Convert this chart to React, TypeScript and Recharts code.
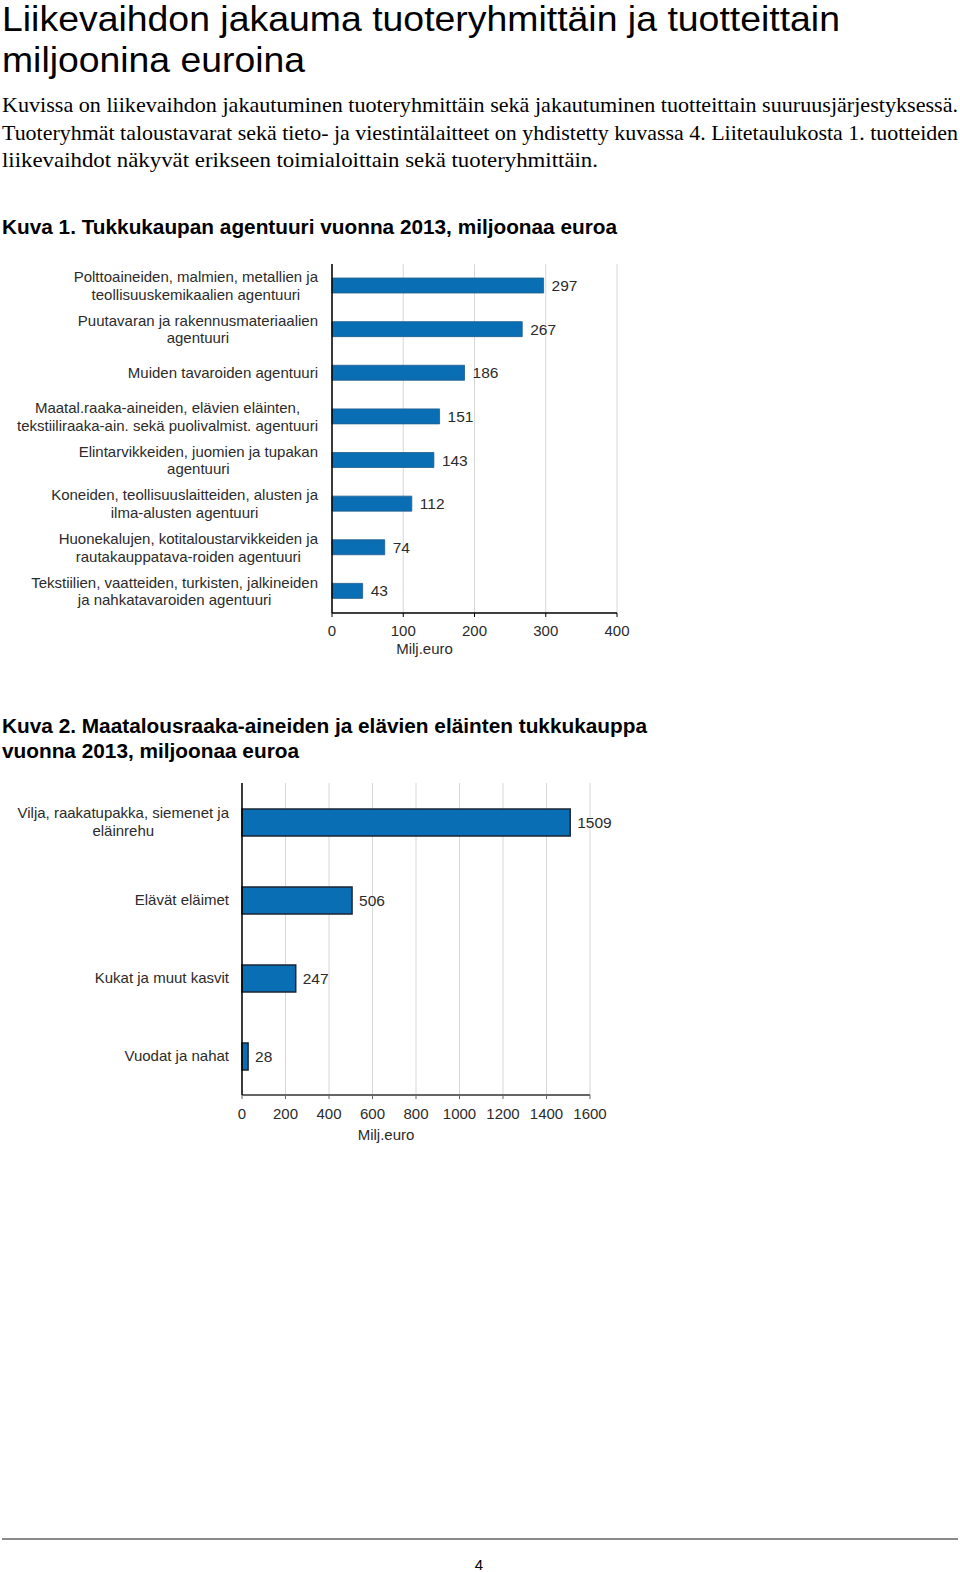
import React from 'react';
import { BarChart, Bar, XAxis, YAxis, CartesianGrid, LabelList } from 'recharts';

// ---------- Data ----------
const agentCategories = [
  'Polttoaineiden, malmien, metallien ja\nteollisuuskemikaalien agentuuri',
  'Puutavaran ja rakennusmateriaalien\nagentuuri',
  'Muiden tavaroiden agentuuri',
  'Maatal.raaka-aineiden, elävien eläinten,\ntekstiiliraaka-ain. sekä puolivalmist. agentuuri',
  'Elintarvikkeiden, juomien ja tupakan\nagentuuri',
  'Koneiden, teollisuuslaitteiden, alusten ja\nilma-alusten agentuuri',
  'Huonekalujen, kotitaloustarvikkeiden ja\nrautakauppatava-roiden agentuuri',
  'Tekstiilien, vaatteiden, turkisten, jalkineiden\nja nahkatavaroiden agentuuri',
];
const agentValues = [297, 267, 186, 151, 143, 112, 74, 43];
const agentTicks = [0, 100, 200, 300, 400];

const farmCategories = [
  'Vilja, raakatupakka, siemenet ja\neläinrehu',
  'Elävät eläimet',
  'Kukat ja muut kasvit',
  'Vuodat ja nahat',
];
const farmValues = [1509, 506, 247, 28];
const farmTicks = [0, 200, 400, 600, 800, 1000, 1200, 1400, 1600];

const axisUnit = 'Milj.euro';

const pageTitle = ['Liikevaihdon jakauma tuoteryhmittäin ja tuotteittain', 'miljoonina euroina'];
const introLines = [
  'Kuvissa on liikevaihdon jakautuminen tuoteryhmittäin sekä jakautuminen tuotteittain suuruusjärjestyksessä.',
  'Tuoteryhmät taloustavarat sekä tieto- ja viestintälaitteet on yhdistetty kuvassa 4. Liitetaulukosta 1. tuotteiden',
  'liikevaihdot näkyvät erikseen toimialoittain sekä tuoteryhmittäin.',
];
const figure1Title = 'Kuva 1. Tukkukaupan agentuuri vuonna 2013, miljoonaa euroa';
const figure2Title = ['Kuva 2. Maatalousraaka-aineiden ja elävien eläinten tukkukauppa', 'vuonna 2013, miljoonaa euroa'];
const pageNumber = '4';

const agentData = agentCategories.map((name, i) => ({ name, value: agentValues[i] }));
const farmData = farmCategories.map((name, i) => ({ name, value: farmValues[i] }));

// ---------- Styles ----------
const SANS = '"Liberation Sans", Arial, sans-serif';
const SERIF = '"Liberation Serif", "Times New Roman", serif';
const BLUE = '#0a6eb4';
const TEXT = '#2b2b2b';

let measureCanvas: HTMLCanvasElement | null = null;
function measure(text: string, font: string): number {
  if (typeof document === 'undefined') return text.length * 7;
  if (!measureCanvas) measureCanvas = document.createElement('canvas');
  const ctx = measureCanvas.getContext('2d');
  if (!ctx) return text.length * 7;
  ctx.font = font;
  return ctx.measureText(text).width;
}

function CategoryTick(props: any) {
  const { x, y, payload, fontSize = 15, lineHeight = 17.5, gap = 14 } = props;
  const lines = String(payload.value).split('\n');
  const font = `${fontSize}px "Liberation Sans"`;
  const maxW = Math.max(...lines.map((l) => measure(l, font)));
  const cx = x - gap - maxW / 2;
  const startY = y - ((lines.length - 1) * lineHeight) / 2;
  return (
    <text textAnchor="middle" fontFamily={SANS} fontSize={fontSize} fill={TEXT}>
      {lines.map((l, i) => (
        <tspan key={i} x={cx} y={startY + i * lineHeight} dy="0.35em">
          {l}
        </tspan>
      ))}
    </text>
  );
}

function Chart1() {
  return (
    <BarChart
      width={640}
      height={408}
      data={agentData}
      layout="vertical"
      margin={{ top: 14, right: 23, left: 0, bottom: 0 }}
      barCategoryGap={0}
    >
      <CartesianGrid horizontal={false} stroke="#d6d6d6" />
      <XAxis
        type="number"
        domain={[0, 400]}
        ticks={agentTicks}
        height={45}
        axisLine={{ stroke: '#000', strokeWidth: 1.5 }}
        tickLine={{ stroke: '#000' }}
        tickSize={4}
        tickMargin={8}
        tick={{ fill: TEXT, fontSize: 15, fontFamily: SANS }}
        label={{ value: axisUnit, position: 'insideBottom', dx: -50, offset: 4, fill: TEXT, fontSize: 15, fontFamily: SANS }}
      />
      <YAxis
        type="category"
        dataKey="name"
        width={332}
        axisLine={{ stroke: '#000', strokeWidth: 1.5 }}
        tickLine={false}
        tickSize={0}
        tickMargin={0}
        interval={0}
        tick={<CategoryTick fontSize={15} lineHeight={17.5} gap={14} />}
      />
      <Bar dataKey="value" fill={BLUE} stroke="#1e5d8c" strokeWidth={0.8} barSize={15} isAnimationActive={false}>
        <LabelList dataKey="value" position="right" offset={8} fill={TEXT} fontSize={15.5} fontFamily={SANS} />
      </Bar>
    </BarChart>
  );
}

function Chart2() {
  return (
    <BarChart
      width={620}
      height={380}
      data={farmData}
      layout="vertical"
      margin={{ top: 13, right: 30, left: 0, bottom: 0 }}
      barCategoryGap={0}
    >
      <CartesianGrid horizontal={false} stroke="#d6d6d6" />
      <XAxis
        type="number"
        domain={[0, 1600]}
        ticks={farmTicks}
        height={55}
        axisLine={{ stroke: '#666', strokeWidth: 2 }}
        tickLine={{ stroke: '#666' }}
        tickSize={4}
        tickMargin={9}
        tick={{ fill: TEXT, fontSize: 15, fontFamily: SANS }}
        label={{ value: axisUnit, position: 'insideBottom', dx: -30, offset: 10, fill: TEXT, fontSize: 15, fontFamily: SANS }}
      />
      <YAxis
        type="category"
        dataKey="name"
        width={242}
        axisLine={{ stroke: '#000', strokeWidth: 1.5 }}
        tickLine={false}
        tickSize={0}
        tickMargin={0}
        interval={0}
        tick={<CategoryTick fontSize={15} lineHeight={18} gap={13} />}
      />
      <Bar dataKey="value" fill={BLUE} stroke="#1a2633" strokeWidth={1.5} barSize={27} isAnimationActive={false}>
        <LabelList dataKey="value" position="right" offset={7} fill={TEXT} fontSize={15.5} fontFamily={SANS} />
      </Bar>
    </BarChart>
  );
}

export default function App() {
  return (
    <div style={{ position: 'absolute', left: 0, top: 0, width: 960, height: 1572, background: '#fff', overflow: 'hidden' }}>
      <svg width={960} height={1572} style={{ position: 'absolute', left: 0, top: 0 }}>
        <text x={2} y={31} fontFamily={SANS} fontSize={35} fill="#000" textLength={838} lengthAdjust="spacingAndGlyphs">
          {pageTitle[0]}
        </text>
        <text x={2} y={72} fontFamily={SANS} fontSize={35} fill="#000" textLength={303} lengthAdjust="spacingAndGlyphs">
          {pageTitle[1]}
        </text>
        <text x={2} y={112} fontFamily={SERIF} fontSize={22} fill="#000" textLength={956} lengthAdjust="spacingAndGlyphs">
          {introLines[0]}
        </text>
        <text x={2} y={139.5} fontFamily={SERIF} fontSize={22} fill="#000" textLength={956} lengthAdjust="spacingAndGlyphs">
          {introLines[1]}
        </text>
        <text x={2} y={167} fontFamily={SERIF} fontSize={22} fill="#000" textLength={596} lengthAdjust="spacingAndGlyphs">
          {introLines[2]}
        </text>
        <text x={2} y={234} fontFamily={SANS} fontWeight="bold" fontSize={20} fill="#000" textLength={615} lengthAdjust="spacingAndGlyphs">
          {figure1Title}
        </text>
        <text x={2} y={733} fontFamily={SANS} fontWeight="bold" fontSize={20} fill="#000" textLength={645} lengthAdjust="spacingAndGlyphs">
          {figure2Title[0]}
        </text>
        <text x={2} y={758} fontFamily={SANS} fontWeight="bold" fontSize={20} fill="#000" textLength={297} lengthAdjust="spacingAndGlyphs">
          {figure2Title[1]}
        </text>
        <line x1={2} y1={1539} x2={958} y2={1539} stroke="#8a8a8a" strokeWidth={2} />
        <text x={479} y={1570} fontFamily={SANS} fontSize={15} fill="#000" textAnchor="middle">
          {pageNumber}
        </text>
      </svg>
      <div style={{ position: 'absolute', left: 0, top: 250 }}>
        <Chart1 />
      </div>
      <div style={{ position: 'absolute', left: 0, top: 770 }}>
        <Chart2 />
      </div>
    </div>
  );
}
